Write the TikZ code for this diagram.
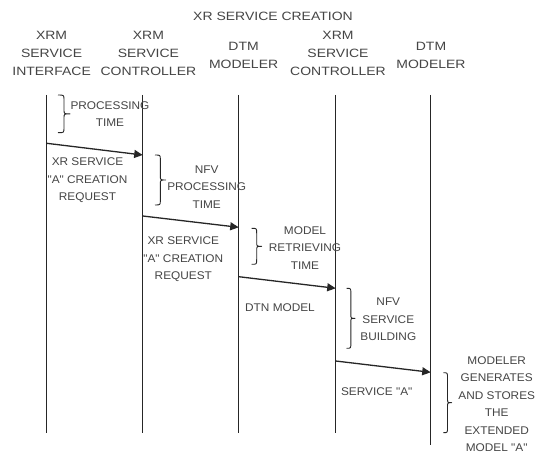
\documentclass[tikz,border=0pt]{standalone}
\usepackage{fontspec}
\setmainfont{Liberation Sans}[FakeStretch=1.16]
\newfontfamily\labelfont{Liberation Sans}[FakeStretch=1.06]
\usetikzlibrary{arrows.meta}

\definecolor{inkline}{HTML}{262626}
\definecolor{inktext}{HTML}{454545}

% curly bracket opening to the left: left x, right x, top y, bottom y
\newcommand{\curlybr}[4]{%
  \pgfmathsetmacro{\bm}{(#3+#4)/2}%
  \pgfmathsetmacro{\bc}{(#1+#2)/2}%
  \draw[bracket] (#1,#3) .. controls (\bc,#3) .. (\bc,#3+5)
    -- (\bc,\bm-4) .. controls (\bc,\bm) .. (#2,\bm)
    .. controls (\bc,\bm) .. (\bc,\bm+4)
    -- (\bc,#4-5) .. controls (\bc,#4) .. (#1,#4);}

\begin{document}
\begin{tikzpicture}[x=1bp,y=-1bp,
  head/.style={align=center,inner sep=0pt,text=inktext,
    font=\fontsize{12.1}{18}\selectfont},
  lbl/.style={align=center,inner sep=0pt,text=inktext,
    font=\labelfont\fontsize{11.2}{17.6}\selectfont},
  lifeline/.style={draw=inkline,line width=1.2bp},
  msg/.style={draw=inkline,line width=1.3bp,-{Triangle[length=8.5bp,width=8bp]}},
  bracket/.style={draw=inkline,line width=0.9bp,line join=round}]
\useasboundingbox[fill=white] (0,0) rectangle (535,453);

% title and participants
\node[head] (title) at (273,16.4) {XR SERVICE CREATION};
\node[head] (p1) at (51.6,53.8) {XRM\\SERVICE\\INTERFACE};
\node[head] (p2) at (148.4,53.8) {XRM\\SERVICE\\CONTROLLER};
\node[head] (p3) at (243.6,55) {DTM\\MODELER};
\node[head] (p4) at (338,53.8) {XRM\\SERVICE\\CONTROLLER};
\node[head] (p5) at (431,55) {DTM\\MODELER};

% lifelines
\coordinate (l1t) at (46.7,95);  \coordinate (l1b) at (46.7,432.7);
\coordinate (l2t) at (142.7,95); \coordinate (l2b) at (142.7,432.7);
\coordinate (l3t) at (238.7,95); \coordinate (l3b) at (238.7,432.7);
\coordinate (l4t) at (335.7,95); \coordinate (l4b) at (335.7,432.7);
\coordinate (l5t) at (430.7,95); \coordinate (l5b) at (430.7,445);
\draw[lifeline] (l1t) -- (l1b);
\draw[lifeline] (l2t) -- (l2b);
\draw[lifeline] (l3t) -- (l3b);
\draw[lifeline] (l4t) -- (l4b);
\draw[lifeline] (l5t) -- (l5b);

% messages
\coordinate (m1s) at (46.7,143.3);  \coordinate (m1e) at (142.7,155);
\coordinate (m2s) at (142.7,216);   \coordinate (m2e) at (238.7,227.3);
\coordinate (m3s) at (238.7,276.7); \coordinate (m3e) at (335.7,288.3);
\coordinate (m4s) at (335.7,361);   \coordinate (m4e) at (430.7,372.3);
\draw[msg] (m1s) -- (m1e);
\draw[msg] (m2s) -- (m2e);
\draw[msg] (m3s) -- (m3e);
\draw[msg] (m4s) -- (m4e);

\node[lbl] (r1) at (87.5,180.6) {XR SERVICE\\"A" CREATION\\REQUEST};
\node[lbl] (r2) at (183.3,259.3) {XR SERVICE\\"A" CREATION\\REQUEST};
\node[lbl] (r3) at (280,307.3) {DTN MODEL};
\node[lbl] (r4) at (376.7,391.7) {SERVICE "A"};

% processing intervals
\curlybr{58}{70}{95}{132.7}
\node[lbl] (t1) at (110,114.2) {PROCESSING\\TIME};
\curlybr{155}{165.7}{155}{205}
\node[lbl] (t2) at (206.7,186.8) {NFV\\PROCESSING\\TIME};
\curlybr{251.7}{261.7}{228.3}{264.3}
\node[lbl] (t3) at (305,247.7) {MODEL\\RETRIEVING\\TIME};
\curlybr{346.7}{355}{288.3}{348.3}
\node[lbl] (t4) at (388.3,319.5) {NFV\\SERVICE\\BUILDING};
\curlybr{443.3}{451.7}{372.7}{432.7}
\node[lbl] (t5) at (496.7,404) {MODELER\\GENERATES\\AND STORES\\THE\\EXTENDED\\MODEL "A"};
\end{tikzpicture}
\end{document}
